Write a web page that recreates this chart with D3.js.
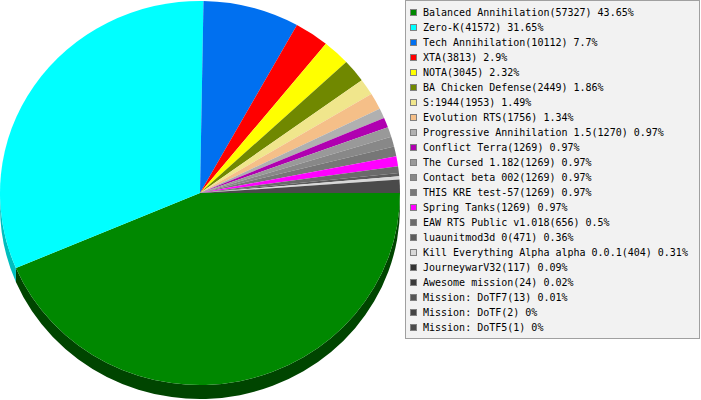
<!DOCTYPE html>
<html>
<head>
<meta charset="utf-8">
<script src="https://cdn.jsdelivr.net/npm/d3@7"></script>
<style>
  body { margin: 0; background: #fff; }
  svg { display: block; }
</style>
</head>
<body>
<div id="chart"></div>
<script>
// Mods and number of games played
const mods = [
    'Balanced Annihilation', 'Zero-K', 'Tech Annihilation', 'XTA', 'NOTA',
    'BA Chicken Defense', 'S:1944', 'Evolution RTS', 'Progressive Annihilation 1.5',
    'Conflict Terra', 'The Cursed 1.182', 'Contact beta 002', 'THIS KRE test-57',
    'Spring Tanks', 'EAW RTS Public v1.018', 'luaunitmod3d 0',
    'Kill Everything Alpha alpha 0.0.1', 'JourneywarV32', 'Awesome mission',
    'Mission: DoTF7', 'Mission: DoTF', 'Mission: DoTF5'
];
const games = [
    57327, 41572, 10112, 3813, 3045, 2449, 1953, 1756, 1270,
    1269, 1269, 1269, 1269, 1269, 656, 471, 404, 117, 24, 13, 2, 1
];

// slice colours, same order as mods
const colors = [
    '#008800', '#00ffff', '#0070f0', '#ff0000', '#ffff00', '#708800', '#f0e68c',
    '#f5bf88', '#b0b0b0', '#b000b0', '#999999', '#888888', '#777777', '#ff00ff',
    '#6a6a6a', '#5c5c5c', '#d8d8d8', '#333333', '#3a3a3a', '#555555', '#444444', '#4a4a4a'
];

const width = 701;
const height = 400;
const cx = 200, cy = 193;
const rx = 200, ry = 192;
const depth = 14;

const total = d3.sum(games);
const pct = v => +(v / total * 100).toFixed(2);

const svg = d3.select('#chart')
    .append('svg')
    .attr('width', width)
    .attr('height', height);

const pie = d3.pie().sort(null).value(d => d);
const arcs = pie(games);

// the original renderer works in whole degrees, last slice takes what is left
let acc = 0;
const slices = arcs.map((d, i) => {
    let span = Math.round((d.endAngle - d.startAngle) * 180 / Math.PI);
    if (i === arcs.length - 1) span = 360 - acc;
    const s = { index: i, a0: acc * Math.PI / 180, a1: (acc + span) * Math.PI / 180 };
    acc += span;
    return s;
});

// point on the ellipse, angle from east going clockwise
const px = a => cx + rx * Math.cos(a);
const py = a => cy + ry * Math.sin(a);

// sides (only the front half shows)
const sides = svg.append('g');
slices.forEach(s => {
    const a0 = Math.max(s.a0, 0), a1 = Math.min(s.a1, Math.PI);
    if (a1 <= a0) return;
    const large = (a1 - a0) > Math.PI ? 1 : 0;
    const p = `M${px(a0)},${py(a0)}` +
        `A${rx},${ry} 0 ${large} 1 ${px(a1)},${py(a1)}` +
        `L${px(a1)},${py(a1) + depth}` +
        `A${rx},${ry} 0 ${large} 0 ${px(a0)},${py(a0) + depth}Z`;
    const mid = (a0 + a1) / 2;
    const k = 0.45 + 0.3 * Math.abs(Math.cos(mid));
    const c = d3.rgb(colors[s.index]);
    sides.append('path')
        .attr('d', p)
        .attr('fill', d3.rgb(c.r * k, c.g * k, c.b * k));
});

// top face
const arc = d3.arc().innerRadius(0).outerRadius(rx);
svg.append('g')
    .attr('transform', `translate(${cx},${cy}) scale(1,${ry / rx})`)
    .selectAll('path')
    .data(slices)
    .enter()
    .append('path')
    .attr('d', s => arc({ startAngle: s.a0 + Math.PI / 2, endAngle: s.a1 + Math.PI / 2 }))
    .attr('fill', s => colors[s.index]);

// legend
const legend = svg.append('g');
legend.append('rect')
    .attr('x', 405.5)
    .attr('y', 0.5)
    .attr('width', 294)
    .attr('height', 338)
    .attr('fill', '#f2f2f2')
    .attr('stroke', '#a0a0a0');

const rows = legend.selectAll('g.row')
    .data(mods)
    .enter()
    .append('g')
    .attr('class', 'row')
    .attr('transform', (d, i) => `translate(0,${15 * i})`);

rows.append('rect')
    .attr('x', 410.5)
    .attr('y', 9.5)
    .attr('width', 6)
    .attr('height', 6)
    .attr('fill', (d, i) => colors[i])
    .attr('stroke', '#808080');

rows.append('text')
    .attr('x', 423)
    .attr('y', 16)
    .attr('font-family', 'DejaVu Sans Mono, monospace')
    .attr('font-size', 10)
    .attr('fill', '#000')
    .text((d, i) => `${d}(${games[i]}) ${pct(games[i])}%`);
</script>
</body>
</html>
